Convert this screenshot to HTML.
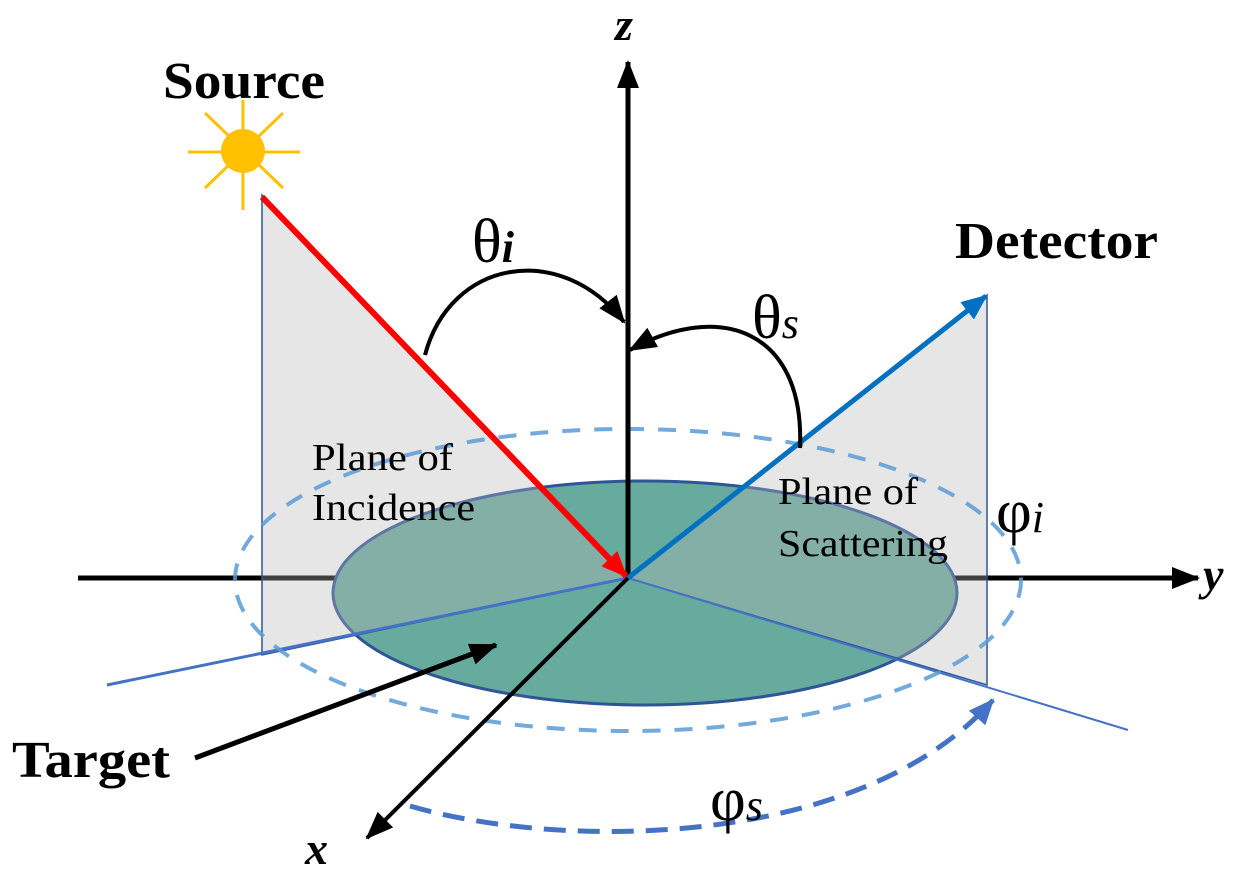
<!DOCTYPE html>
<html><head><style>body{margin:0;background:#fff}svg{display:block}</style></head><body>
<svg width="1240" height="874" viewBox="0 0 1240 874" xmlns="http://www.w3.org/2000/svg" font-family="Liberation Serif, serif">
<defs>
<marker id="abl" markerWidth="28" markerHeight="22" refX="26" refY="11" orient="auto" markerUnits="userSpaceOnUse"><path d="M0,0L28,11L0,22z" fill="#000"/></marker>
<marker id="ar" markerWidth="26" markerHeight="22" refX="24" refY="11" orient="auto" markerUnits="userSpaceOnUse"><path d="M0,0L26,11L0,22z" fill="#f00"/></marker>
<marker id="ablu" markerWidth="26" markerHeight="22" refX="24" refY="11" orient="auto" markerUnits="userSpaceOnUse"><path d="M0,0L26,11L0,22z" fill="#0070c0"/></marker>
<marker id="ad" markerWidth="26" markerHeight="22" refX="24" refY="11" orient="auto" markerUnits="userSpaceOnUse"><path d="M0,0L26,11L0,22z" fill="#4472c4"/></marker>
</defs>
<line x1="78" y1="578" x2="1198" y2="578" stroke="#000" stroke-width="5" marker-end="url(#abl)"/>
<ellipse cx="645" cy="593" rx="312" ry="112" fill="#67ab9f" stroke="#2f5597" stroke-width="3"/>
<polygon points="262,195 262,655 628,578" fill="#b8b8b8" fill-opacity="0.35" stroke="#2f5597" stroke-width="1.5"/>
<polygon points="987,295 987,685 628,578" fill="#b8b8b8" fill-opacity="0.35" stroke="#2f5597" stroke-width="1.5"/>
<line x1="628" y1="578" x2="107" y2="685" stroke="#4472c4" stroke-width="3"/>
<line x1="628" y1="578" x2="1128" y2="730" stroke="#4472c4" stroke-width="2"/>
<ellipse cx="628" cy="580" rx="393" ry="151" fill="none" stroke="#5b9bd5" stroke-width="4" stroke-dasharray="18,14" opacity="0.85"/>
<line x1="628" y1="578" x2="628" y2="62" stroke="#000" stroke-width="5" marker-end="url(#abl)"/>
<line x1="628" y1="578" x2="367" y2="838" stroke="#000" stroke-width="4" marker-end="url(#abl)"/>
<line x1="262" y1="197" x2="626" y2="576" stroke="#f00" stroke-width="6" marker-end="url(#ar)"/>
<line x1="628" y1="578" x2="986" y2="296" stroke="#0070c0" stroke-width="5" marker-end="url(#ablu)"/>
<path d="M425,355 C450,260 560,240 624,322" fill="none" stroke="#000" stroke-width="4" marker-end="url(#abl)"/>
<path d="M800,448 C805,330 720,300 630,350" fill="none" stroke="#000" stroke-width="4" marker-end="url(#abl)"/>
<path d="M410,806 C560,850 860,850 993,700" fill="none" stroke="#4472c4" stroke-width="5" stroke-dasharray="22,12" marker-end="url(#ad)"/>
<line x1="195" y1="758" x2="496" y2="645" stroke="#000" stroke-width="5" marker-end="url(#abl)"/>
<g stroke="#ffc000" stroke-width="3">
<line x1="243" y1="100" x2="243" y2="210"/><line x1="188" y1="152" x2="300" y2="152"/>
<line x1="205" y1="113" x2="283" y2="188"/><line x1="283" y1="113" x2="205" y2="188"/>
</g>
<circle cx="243" cy="151" r="22" fill="#ffc000"/>
<g font-weight="bold" font-size="52">
<text x="163" y="98" textLength="162" lengthAdjust="spacingAndGlyphs">Source</text>
<text x="955" y="258" textLength="203" lengthAdjust="spacingAndGlyphs">Detector</text>
<text x="12" y="777" textLength="158" lengthAdjust="spacingAndGlyphs">Target</text>
</g>
<g font-style="italic" font-weight="bold" font-size="46">
<text x="615" y="40">z</text>
<text x="1203" y="590">y</text>
<text x="305" y="864">x</text>
</g>
<g font-size="62">
<text x="472" y="262">θ<tspan font-size="44" font-style="italic" font-weight="bold">i</tspan></text>
<text x="752" y="338">θ<tspan font-size="44" font-style="italic">s</tspan></text>
<text x="996" y="532">φ<tspan font-size="44" font-style="italic">i</tspan></text>
<text x="710" y="820">φ<tspan font-size="44" font-style="italic">s</tspan></text>
</g>
<g font-size="38">
<text x="312" y="470" textLength="141" lengthAdjust="spacingAndGlyphs">Plane of</text>
<text x="312" y="520" textLength="163" lengthAdjust="spacingAndGlyphs">Incidence</text>
<text x="778" y="504" textLength="140" lengthAdjust="spacingAndGlyphs">Plane of</text>
<text x="778" y="556" textLength="170" lengthAdjust="spacingAndGlyphs">Scattering</text>
</g>
</svg>
</body></html>
